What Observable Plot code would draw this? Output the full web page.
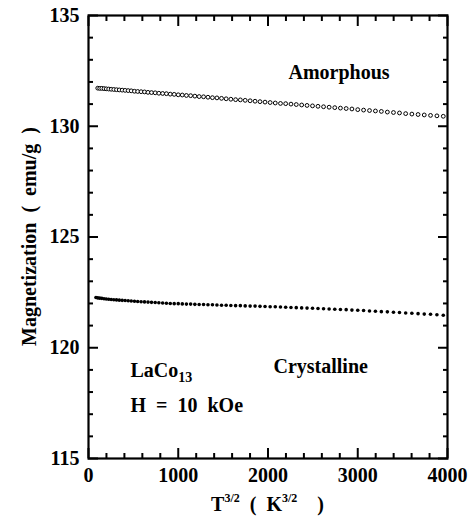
<!DOCTYPE html>
<html><head><meta charset="utf-8">
<script src="https://cdn.jsdelivr.net/npm/d3@7"></script>
<script src="https://cdn.jsdelivr.net/npm/@observablehq/plot@0.6"></script>
<style>body{margin:0;background:#fff}</style>
</head><body><div id="chart"></div><script>
// T^(3/2) values (K^3/2)
const tAmorphous = [103,125,148,173,198,225,253,282,312,343,375,408,442,476,512,548,586,624,663,702,743,784,826,868,911,955,1000,1045,1091,1138,1185,1233,1282,1331,1381,1431,1482,1534,1586,1639,1692,1746,1801,1856,1911,1967,2024,2081,2139,2197,2256,2315,2375,2435,2496,2557,2619,2681,2744,2807,2871,2935,3000,3065,3131,3197,3263,3330,3398,3465,3534,3603,3672,3741,3811,3882,3953];
// Magnetization (emu/g)
const mAmorphous = [131.72,131.71,131.71,131.70,131.69,131.68,131.67,131.66,131.65,131.64,131.63,131.62,131.61,131.60,131.58,131.57,131.56,131.55,131.53,131.52,131.51,131.49,131.48,131.47,131.45,131.44,131.42,131.41,131.39,131.38,131.36,131.34,131.33,131.31,131.29,131.28,131.26,131.24,131.22,131.20,131.19,131.17,131.15,131.13,131.11,131.09,131.07,131.05,131.03,131.02,131.00,130.98,130.96,130.94,130.92,130.90,130.88,130.86,130.84,130.82,130.80,130.78,130.75,130.73,130.71,130.69,130.67,130.64,130.62,130.60,130.57,130.55,130.53,130.51,130.49,130.47,130.45];
const tCrystalline = [83,103,125,148,173,198,225,253,282,312,343,375,408,442,476,512,548,586,624,663,702,743,784,826,868,911,955,1000,1045,1091,1138,1185,1233,1282,1331,1381,1431,1482,1534,1586,1639,1692,1746,1801,1856,1911,1967,2024,2081,2139,2197,2256,2315,2375,2435,2496,2557,2619,2681,2744,2807,2871,2935,3000,3065,3131,3197,3263,3330,3398,3465,3534,3603,3672,3741,3811,3882,3953];
const mCrystalline = [122.27,122.25,122.24,122.23,122.21,122.20,122.19,122.18,122.17,122.16,122.15,122.14,122.13,122.12,122.11,122.10,122.09,122.08,122.07,122.06,122.05,122.04,122.03,122.02,122.01,122.00,121.99,121.99,121.98,121.97,121.97,121.96,121.95,121.95,121.94,121.94,121.93,121.92,121.92,121.91,121.90,121.90,121.89,121.88,121.88,121.87,121.86,121.85,121.85,121.84,121.83,121.82,121.81,121.80,121.79,121.78,121.77,121.76,121.75,121.74,121.73,121.72,121.70,121.69,121.68,121.66,121.65,121.63,121.62,121.60,121.59,121.57,121.56,121.54,121.52,121.51,121.49,121.47];
const xTicks = [0,1000,2000,3000,4000];
const xMinor = [200,400,600,800,1200,1400,1600,1800,2200,2400,2600,2800,3200,3400,3600,3800];
const yTicks = [115,120,125,130,135];
const yMinor = [116,117,118,119,121,122,123,124,126,127,128,129,131,132,133,134];

const amorphous = tAmorphous.map((t,i)=>({t, m:mAmorphous[i]}));
const crystalline = tCrystalline.map((t,i)=>({t, m:mCrystalline[i]}));

const W=468,H=521,mL=88,mR=21,mT=15,mB=63;
const pw=W-mL-mR, ph=H-mT-mB;
const font = "Liberation Serif";
const fmt = d=>String(d);
const tk = (data, anchor, size, isX) => (isX ? Plot.axisX : Plot.axisY)(data, {anchor, tickSize:-size, fill:"none", label:null, strokeWidth:2, stroke:"black"});

const plot = Plot.plot({
  width:W, height:H, marginLeft:mL, marginRight:mR, marginTop:mT, marginBottom:mB,
  style:{fontFamily:font, fontWeight:"bold", fontSize:"20px"},
  x:{domain:[0,4000], axis:null},
  y:{domain:[115,135], axis:null},
  marks:[
    Plot.frame({stroke:"black", strokeWidth:2.2, fill:"none"}),
    Plot.axisX(xTicks,{anchor:"bottom", tickSize:0, tickPadding:9, tickFormat:fmt, label:null, fontSize:20, fontWeight:"bold"}),
    Plot.axisY(yTicks,{anchor:"left", tickSize:0, tickPadding:9, tickFormat:fmt, label:null, fontSize:20, fontWeight:"bold"}),
    Plot.dot(amorphous,{x:"t", y:"m", r:1.9, stroke:"black", strokeWidth:1, fill:"white"}),
    Plot.dot(crystalline,{x:"t", y:"m", r:1.8, fill:"black", stroke:"none"}),
    Plot.text(["Amorphous"],{x:2228, y:132.44, text:d=>d, textAnchor:"start", fontSize:20, fontWeight:"bold"}),
    Plot.text(["Crystalline"],{x:2061, y:119.13, text:d=>d, textAnchor:"start", fontSize:20, fontWeight:"bold"}),
    Plot.text(["LaCo13"],{x:468, y:118.95, text:d=>d, textAnchor:"start", fontSize:20, fontWeight:"bold"}),
    Plot.text(["H\u00a0\u00a0=\u00a0\u00a010\u00a0\u00a0kOe"],{x:468, y:117.37, text:d=>d, textAnchor:"start", fontSize:20, fontWeight:"bold"}),
    tk(xTicks,"bottom",10,true), tk(xTicks,"top",10,true),
    tk(xMinor,"bottom",5,true), tk(xMinor,"top",5,true),
    tk(yTicks,"left",10,false), tk(yTicks,"right",10,false),
    tk(yMinor,"left",5,false), tk(yMinor,"right",5,false)
  ]
});

const svg = d3.select(plot);
svg.selectAll("text").filter(function(){return this.textContent==="LaCo13";}).each(function(){
  const t=d3.select(this); t.text("LaCo");
  t.append("tspan").attr("dy",5).attr("font-size",14).text("13");
});
// x label
const xl = svg.append("text").attr("x", mL+pw/2).attr("y", 511).attr("text-anchor","middle")
  .attr("font-size",20).attr("font-weight","bold").attr("fill","black");
xl.append("tspan").text("T");
xl.append("tspan").attr("dy",-9).attr("font-size",12).text("3/2");
xl.append("tspan").attr("dy",9).text("\u00a0\u00a0(\u00a0\u00a0K");
xl.append("tspan").attr("dy",-9).attr("font-size",12).text("3/2");
xl.append("tspan").attr("dy",9).text("\u00a0\u00a0\u00a0\u00a0)");
// y label
svg.append("text").attr("transform",`translate(36,${mT+ph/2}) rotate(-90)`).attr("text-anchor","middle")
  .attr("font-size",20).attr("font-weight","bold").attr("fill","black")
  .text("Magnetization\u00a0\u00a0(\u00a0\u00a0emu/g\u00a0\u00a0)");

document.getElementById("chart").appendChild(plot);
</script></body></html>
